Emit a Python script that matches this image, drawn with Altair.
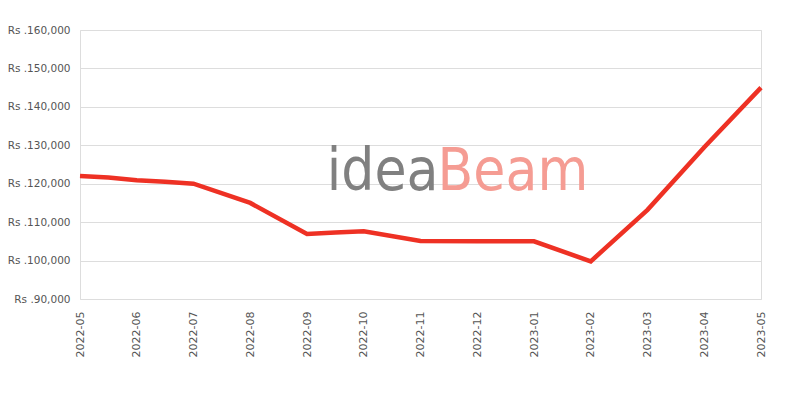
import altair as alt
import pandas as pd

months = ["2022-05", "2022-06", "2022-07", "2022-08", "2022-09", "2022-10", "2022-11",
          "2022-12", "2023-01", "2023-02", "2023-03", "2023-04", "2023-05"]
# position along the month axis (0 = 2022-05) and price
positions = [0, 0.5, 1, 1.5, 2, 3, 4, 4.5, 5, 6, 7, 8, 9, 10, 11, 12]
prices = [122000, 121600, 120900, 120500, 120000, 115000, 106900, 107300, 107600,
          105100, 105000, 105000, 99800, 113200, 129500, 145000]

df = pd.DataFrame({"pos": positions, "price": prices})

label_expr = "[" + ",".join(f"'{m}'" for m in months) + "][datum.value]"

x_scale = alt.Scale(domain=[0, 12], nice=False, zero=False)
y_scale = alt.Scale(domain=[90000, 160000], nice=False, zero=False)

x_axis = alt.Axis(values=list(range(13)), labelExpr=label_expr, labelAngle=270,
                  labelFontSize=11, labelColor="#555555", labelFont="DejaVu Sans",
                  grid=False, ticks=False, domain=False, title=None, labelPadding=12,
                  labelAlign="right", labelBaseline="middle", labelOverlap=False)
y_axis = alt.Axis(values=list(range(90000, 160001, 10000)),
                  labelExpr="'Rs .' + format(datum.value, ',')",
                  labelFontSize=10.5, labelColor="#555555", labelFont="DejaVu Sans",
                  grid=True, gridColor="#dddddd", ticks=False, domain=False,
                  title=None, labelPadding=10, labelOverlap=False)
x_enc = alt.X("pos:Q", scale=x_scale, axis=x_axis)
y_enc = alt.Y("price:Q", scale=y_scale, axis=y_axis)

line = alt.Chart(df).mark_line(color="#ee3124", strokeWidth=4.5).encode(x=x_enc, y=y_enc)

wm_pos = [6.3]
wm_price = [118300]
wm = pd.DataFrame({"pos": wm_pos * 2, "price": wm_price * 2, "txt": ["idea", "Beam"]})
wm_idea = alt.Chart(wm[wm.txt == "idea"]).mark_text(
    align="right", baseline="alphabetic", font="DejaVu Sans Condensed", fontSize=58,
    color="#808080", dx=1).encode(x=x_enc, y=y_enc, text="txt:N")
wm_beam = alt.Chart(wm[wm.txt == "Beam"]).mark_text(
    align="left", baseline="alphabetic", font="DejaVu Sans Condensed", fontSize=58,
    color="#f59c93").encode(x=x_enc, y=y_enc, text="txt:N")

chart = alt.layer(line, wm_idea, wm_beam).properties(
    width=681, height=269,
    autosize=alt.AutoSizeParams(type="none"),
    padding={"left": 72, "top": 22, "right": 31, "bottom": 100},
).configure_view(stroke="#dddddd", strokeWidth=1)

chart.save("out.html", embed_options={"renderer": "svg", "actions": False})
